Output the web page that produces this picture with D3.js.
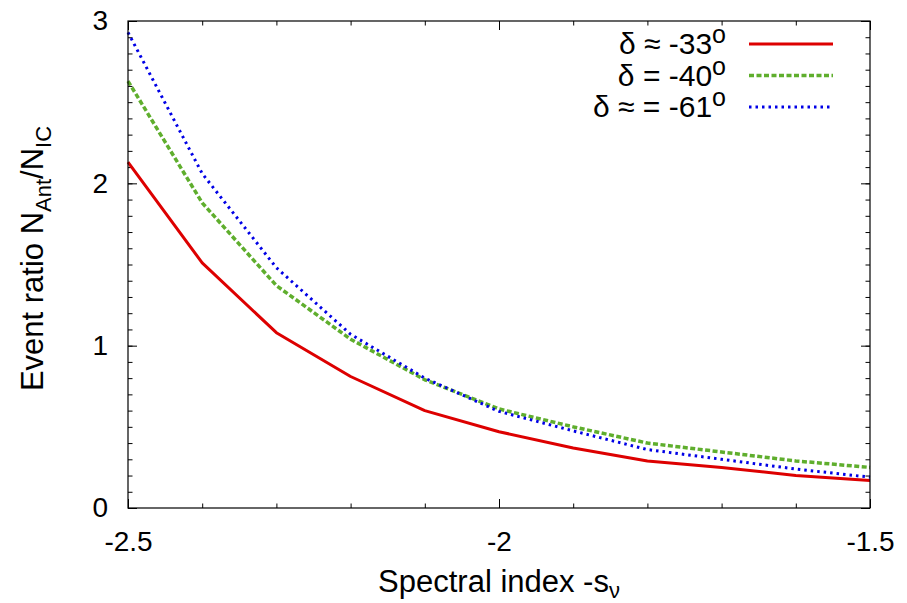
<!DOCTYPE html>
<html>
<head>
<meta charset="utf-8">
<script src="https://cdn.jsdelivr.net/npm/d3@7"></script>
<style>
  body { margin: 0; background: #fff; }
  svg { font-family: "Liberation Sans", Arial, sans-serif; }
  .frame { fill: none; stroke: #000; stroke-width: 1.2; }
  .axis path { display: none; }
  .axis line { stroke: #000; stroke-width: 1; }
  .axis text { font-size: 28px; fill: #000; }
</style>
</head>
<body>
<svg id="chart" width="907" height="603"></svg>
<script>
"use strict";

// spectral index values (x)
var spectral_index = [-2.5, -2.4, -2.3, -2.2, -2.1, -2.0, -1.9, -1.8, -1.7, -1.6, -1.5];
// event ratio for each declination
var ratio_33 = [2.13, 1.51, 1.08, 0.81, 0.60, 0.47, 0.37, 0.29, 0.25, 0.20, 0.17];
var ratio_40 = [2.63, 1.88, 1.37, 1.04, 0.79, 0.61, 0.50, 0.40, 0.345, 0.29, 0.25];
var ratio_61 = [2.93, 2.06, 1.48, 1.07, 0.80, 0.595, 0.475, 0.36, 0.30, 0.24, 0.19];

var x_ticks = [-2.5, -2, -1.5];
var x_tick_labels = ['-2.5', '-2', '-1.5'];
var y_ticks = [0, 1, 2, 3];
var y_tick_labels = ['0', '1', '2', '3'];

var series_labels = [
  { pre: 'δ ≈ -33', sup: 'o' },
  { pre: 'δ = -40', sup: 'o' },
  { pre: 'δ ≈ = -61', sup: 'o' }
];

var series = [
  { values: ratio_33, color: '#dd0000', width: 3, dash: null },
  { values: ratio_40, color: '#5fae2d', width: 3.5, dash: '5,2.5' },
  { values: ratio_61, color: '#0000e6', width: 3, dash: '2.5,4' }
];

function draw_plot() {
  var svg = d3.select('#chart');
  var left = 128, right = 870, top = 21, bottom = 508;

  var X = d3.scaleLinear().domain([-2.5, -1.5]).range([left, right]);
  var Y = d3.scaleLinear().domain([0, 3]).range([bottom, top]);

  var x_minor = d3.range(-2.5, -1.5 + 1e-9, 0.1).map(d => +d.toFixed(2));
  var y_minor = d3.range(0, 3 + 1e-9, 0.1).map(d => +d.toFixed(2));

  // minor ticks on all four sides
  svg.append('g').attr('class', 'axis')
    .attr('transform', 'translate(0,' + bottom + ')')
    .call(d3.axisBottom(X).tickValues(x_minor).tickSize(-4.5).tickFormat(''));
  svg.append('g').attr('class', 'axis')
    .attr('transform', 'translate(0,' + top + ')')
    .call(d3.axisTop(X).tickValues(x_minor).tickSize(-4.5).tickFormat(''));
  svg.append('g').attr('class', 'axis')
    .attr('transform', 'translate(' + left + ',0)')
    .call(d3.axisLeft(Y).tickValues(y_minor).tickSize(-4.5).tickFormat(''));
  svg.append('g').attr('class', 'axis')
    .attr('transform', 'translate(' + right + ',0)')
    .call(d3.axisRight(Y).tickValues(y_minor).tickSize(-4.5).tickFormat(''));

  // major ticks with labels
  svg.append('g').attr('class', 'axis')
    .attr('transform', 'translate(0,' + bottom + ')')
    .call(d3.axisBottom(X).tickValues(x_ticks).tickSize(-9).tickPadding(23)
      .tickFormat((d, i) => x_tick_labels[i]));
  svg.append('g').attr('class', 'axis')
    .attr('transform', 'translate(0,' + top + ')')
    .call(d3.axisTop(X).tickValues(x_ticks).tickSize(-9).tickFormat(''));
  svg.append('g').attr('class', 'axis')
    .attr('transform', 'translate(' + left + ',0)')
    .call(d3.axisLeft(Y).tickValues(y_ticks).tickSize(-9).tickPadding(20)
      .tickFormat((d, i) => y_tick_labels[i]));
  svg.append('g').attr('class', 'axis')
    .attr('transform', 'translate(' + right + ',0)')
    .call(d3.axisRight(Y).tickValues(y_ticks).tickSize(-9).tickFormat(''));

  // curves
  var plot = svg.append('g');
  series.forEach(function (s) {
    var line = d3.line()
      .x((d, i) => X(spectral_index[i]))
      .y(d => Y(d));
    var p = plot.append('path')
      .datum(s.values)
      .attr('d', line)
      .attr('fill', 'none')
      .attr('stroke', s.color)
      .attr('stroke-width', s.width)
      .attr('stroke-linejoin', 'round');
    if (s.dash) p.attr('stroke-dasharray', s.dash);
  });

  svg.append('rect').attr('class', 'frame')
    .attr('x', left).attr('y', top)
    .attr('width', right - left).attr('height', bottom - top);

  // legend
  var legend = svg.append('g');
  series.forEach(function (s, i) {
    var ly = 44 + i * 31.5;
    var t = legend.append('text')
      .attr('x', 726).attr('y', ly + 10)
      .attr('text-anchor', 'end')
      .attr('font-size', 30);
    t.append('tspan').text(series_labels[i].pre);
    t.append('tspan').attr('dy', -11).attr('font-size', 25).text(series_labels[i].sup);
    var l = legend.append('line')
      .attr('x1', 749).attr('x2', 833)
      .attr('y1', ly).attr('y2', ly)
      .attr('stroke', s.color)
      .attr('stroke-width', s.width);
    if (s.dash) l.attr('stroke-dasharray', s.dash);
  });

  // axis titles, centred on the plot frame
  var xt = svg.append('text')
    .attr('x', (left + right) / 2).attr('y', 592)
    .attr('text-anchor', 'middle')
    .attr('font-size', 31);
  xt.append('tspan').text('Spectral index -s');
  xt.append('tspan').attr('dy', 6).attr('font-size', 22).text('ν');

  var yt = svg.append('text')
    .attr('transform', 'translate(43,' + ((top + bottom) / 2 - 6) + ') rotate(-90)')
    .attr('text-anchor', 'middle')
    .attr('font-size', 31);
  yt.append('tspan').text('Event ratio N');
  yt.append('tspan').attr('dy', 8).attr('font-size', 22).text('Ant');
  yt.append('tspan').attr('dy', -8).text('/N');
  yt.append('tspan').attr('dy', 8).attr('font-size', 22).text('IC');
}

draw_plot();
</script>
</body>
</html>
